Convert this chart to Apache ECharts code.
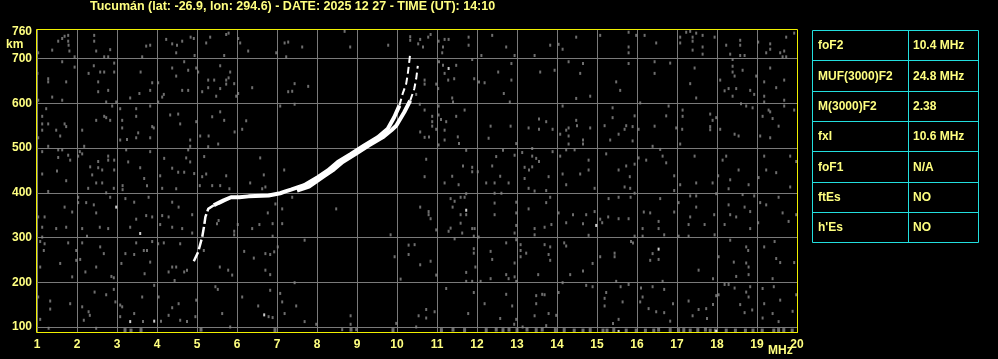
<!DOCTYPE html>
<html>
<head>
<meta charset="utf-8">
<script src="https://cdn.jsdelivr.net/npm/echarts@6/dist/echarts.min.js"></script>
<style>
html,body{margin:0;padding:0;background:#000;}
#c{width:998px;height:359px;}
</style>
</head>
<body>
<div id="c"></div>
<script>
var titleText = 'Tucumán (lat: -26.9, lon: 294.6) - DATE: 2025 12 27 - TIME (UT): 14:10';
var yTickValues = [100, 200, 300, 400, 500, 600, 700];
var yLabelValues = [100, 200, 300, 400, 500, 600, 700, 760];
var paramNames = ['foF2', 'MUF(3000)F2', 'M(3000)F2', 'fxI', 'foF1', 'ftEs', "h'Es"];
var paramValues = ['10.4 MHz', '24.8 MHz', '2.38', '10.6 MHz', 'N/A', 'NO', 'NO'];

// O-mode trace (MHz, km)
var oTraceLow = [[4.92,247],[5.03,268],[5.13,301],[5.18,327],[5.21,346],[5.28,364],[5.42,372]];
var oTrace = [[5.42,372],[5.53,377],[5.67,383],[5.85,390],[6.06,390],[6.29,392],[6.79,394],[7.08,399],[7.21,403],[7.35,407],[7.68,417],[8.02,435],[8.27,450],[8.52,469],[8.85,487],[9.18,506],[9.52,524],[9.77,543],[9.93,569],[10.06,595]];
var oTraceTop = [[10.06,595],[10.14,621],[10.23,644],[10.27,666],[10.33,711]];
// X-mode trace
var xTrace = [[7.5,405],[7.8,414],[8.14,435],[8.39,450],[8.64,469],[8.97,487],[9.3,506],[9.64,524],[9.86,540],[9.98,550],[10.18,580],[10.33,606]];
var xTraceTop = [[10.33,606],[10.43,632],[10.48,655],[10.52,684]];

// background echoes
var noiseA = [[1.03,713],[1.38,719],[1.53,739],[1.63,745],[1.69,750],[1.78,752],[1.78,739],[1.79,730],[1.81,717],[1.94,704],[2.43,752],[2.43,739],[2.48,717],[2.68,704],[2.78,704],[2.83,720],[3.63,704],[3.73,728],[3.83,730],[4.23,743],[4.38,733],[4.5,730],[4.63,739],[4.48,713],[4.84,748],[4.92,745],[4.94,707],[5.23,735],[5.33,748],[5.68,707],[5.73,754],[5.79,757],[6.03,745],[6.08,735],[6.28,717],[6.98,713],[7.19,735],[7.28,737],[7.23,704],
[1.01,667],[1.03,607],[1.28,655],[1.28,648],[1.38,614],[1.63,693],[1.63,607],[1.73,648],[1.94,681],[2.29,667],[2.42,684],[2.53,648],[2.53,626],[2.58,670],[2.68,670],[2.78,629],[2.73,603],[2.93,690],[2.93,670],[2.98,603],[3.33,612],[3.56,622],[3.59,670],[3.83,629],[3.88,646],[4.03,646],[4.13,614],[4.17,620],[4.03,603],[4.38,679],[4.48,661],[4.68,693],[4.78,674],[4.63,629],[4.78,629],[4.98,679],[5.03,670],[5.13,626],[5.28,652],[5.28,635],[5.43,652],[5.58,684],[5.58,633],[5.73,652],[5.73,643],[5.79,657],[5.83,670],[5.93,644],[5.48,616],[5.98,616],[6.03,622],[6.38,635],[7.28,626],
[1.23,588],[1.13,571],[1.13,554],[1.28,554],[1.13,540],[1.48,540],[1.69,554],[1.73,548],[1.58,527],[1.03,523],[1.28,504],[2.13,540],[2.48,562],[2.68,571],[2.73,568],[2.83,562],[2.88,594],[3.08,588],[3.13,562],[3.13,545],[3.08,518],[3.25,519],[3.48,588],[3.48,571],[3.53,534],[3.48,523],[3.83,594],[3.88,548],[3.92,545],[3.83,523],[4.33,574],[4.53,576],[4.58,554],[4.83,518],[4.98,559],[5.08,527],[5.29,527],[5.38,570],[5.58,581],[5.68,562],[5.94,536],[6.13,542],[6.23,561],[7.08,594],[5.53,509],[5.28,503],
[1.13,492],[1.53,496],[1.63,496],[1.53,479],[1.78,484],[1.83,473],[1.13,442],[1.5,449],[1.73,427],[2.03,482],[2.07,492],[2.13,487],[2.18,504],[2.33,458],[2.38,440],[2.53,470],[2.53,456],[2.63,451],[2.78,482],[2.78,473],[2.93,473],[2.93,451],[3.23,496],[3.28,469],[3.58,456],[3.68,432],[3.83,492],[4.08,438],[4.18,477],[4.38,455],[4.53,446],[4.68,446],[4.73,478],[4.83,469],[4.78,496],[4.83,504],[4.93,443],[5.13,436],[5.18,481],[5.23,442],[5.73,438],[6.58,478],[6.67,440],[7.18,451]];
var noiseB = [[2.28,410],[2.48,422],[2.63,422],[2.73,400],[2.92,410],[3.14,416],[3.14,407],[3.75,416],[4.13,410],[4.48,409],[5.07,416],[5.38,416],[5.58,416],[5.81,409],[6.33,422],[6.63,409],[6.71,413],[7.25,405],[1.28,403],
[1.03,346],[1.19,346],[1.13,323],[1.13,301],[1.48,320],[1.69,368],[1.73,323],[1.88,357],[2.03,390],[2.03,378],[2.23,378],[2.42,373],[2.48,355],[2.13,320],[2.25,303],[2.57,323],[2.78,320],[2.83,390],[3.21,387],[3.43,379],[3.33,323],[3.48,341],[3.73,349],[3.79,390],[3.88,346],[4.08,329],[4.13,349],[4.29,346],[4.38,379],[4.54,368],[4.38,323],[4.63,320],[4.88,351],[4.88,310],[5.5,331],[5.54,338],[5.93,314],[5.93,306],[6.02,329],[6.38,320],[6.56,329],[6.77,355],[6.89,331],[6.89,303],[6.96,375],[7.13,364],[7.13,331],
[1.08,291],[1.19,286],[1.17,271],[1.08,234],[1.58,242],[1.78,288],[1.88,212],[1.98,271],[1.98,249],[2.08,251],[2.13,288],[2.21,223],[2.48,234],[2.58,279],[2.67,264],[2.86,213],[2.92,210],[3.11,242],[3.21,264],[3.43,262],[3.48,288],[3.67,271],[3.75,271],[3.83,245],[3.69,219],[3.88,291],[4.03,286],[4.17,288],[4.29,223],[4.38,234],[4.48,234],[4.58,286],[4.68,223],[4.75,227],[4.44,204],[5.17,271],[5.57,234],[5.78,227],[5.88,216],[6.18,269],[6.42,254],[6.71,264],[6.83,262],[6.93,268],[6.71,227],[7.02,279],[6.83,217],
[1.03,167],[1.33,158],[1.33,140],[1.08,117],[1.29,97],[1.83,152],[2.13,145],[2.29,134],[2.17,115],[2.32,126],[2.44,178],[2.48,97],[2.73,172],[2.92,184],[2.96,156],[3.08,149],[3.13,145],[3.08,123],[3.43,130],[3.63,167],[3.65,112],[3.93,193],[4.04,167],[4.1,113],[4.29,126],[4.38,143],[4.54,152],[4.58,115],[4.75,112],[4.98,160],[4.96,123],[5.46,190],[5.52,184],[5.63,130],[5.83,100],[6.13,167],[6.53,147],[6.79,123],[6.89,121],[6.83,182],[7.08,175],[7.19,130],[7.13,156]];
var noiseC = [[7.63,726],[7.38,627],[7.44,644],[7.78,638],[7.44,598],[8.69,761],[8.83,726],[9.78,730],[10.33,741],[10.33,749],[10.53,733],[10.58,743],[10.65,726],[10.78,748],[10.84,754],[11.04,739],[11.15,726],[11.13,713],[11.19,743],[11.29,743],[11.79,748],[11.79,730],[12.38,752],[12.73,726],[12.94,707],[13.44,707],[12.11,707],[11.05,693],[11.15,685],[11.19,667],[11.48,685],[11.43,655],[11.28,652],[10.69,652],[10.69,643],[10.48,620],[10.98,643],[11.03,633],[11.88,698],[11.93,655],[12.05,648],[12.19,646],[12.53,670],[12.86,689],[12.86,652],[12.67,622],[12.82,603],[13.58,670],[11.38,612],[11.4,603],[10.57,598],[10.69,585],[10.88,571],[10.88,559],[10.88,549],[11.04,594],[11.04,574],[11.1,564],[11.23,559],[10.98,542],[11.19,540],[11.19,518],[10.8,525],[10.69,524],[10.58,536],[11.48,571],[11.52,525],[11.55,510],[11.69,585],[12.29,522],[12.34,549],[12.84,549],[13.29,545],[13.55,565],[13.55,542],[11.04,507],[10.73,475],[10.69,436],[11.38,437],[11.65,460],[11.73,495],[11.88,457],[11.88,447],[12.02,447],[12.38,460],[12.48,481],[12.58,437],[12.65,495],[12.94,484],[13.13,490],[13.19,457],[13.3,451],[13.38,482],[13.38,458],[13.48,477],[13.55,470],[13.19,432],[12.98,510],[13.38,499],[8.68,477]];
var noiseD = [[7.38,390],[8.48,364],[9.84,306],[7.69,294],[7.44,199],[7.48,147],[7.69,112],[7.98,106],[8.63,94],[8.84,125],[8.84,106],[8.98,94],[9.94,257],[10.29,283],[10.29,262],[10.44,284],[10.58,239],[10.84,247],[10.98,216],[10.09,207],[10.58,368],[10.79,358],[10.79,351],[10.84,342],[10.98,317],[11.19,422],[11.34,387],[11.44,381],[11.39,368],[11.59,390],[11.69,390],[11.73,398],[11.73,351],[11.59,351],[11.59,332],[11.34,321],[11.29,314],[11.63,310],[11.88,320],[11.94,320],[12.04,301],[11.92,303],[11.44,297],[11.54,418],[12.23,422],[12.44,422],[12.79,422],[13.29,410],[13.44,404],[12.44,399],[12.61,399],[12.44,377],[12.44,351],[12.98,379],[13.29,364],[12.98,355],[12.98,327],[13.44,320],[13.44,306],[12.94,310],[11.92,275],[11.92,265],[11.96,234],[11.73,222],[11.73,202],[11.88,202],[12.09,202],[12.34,269],[12.38,251],[12.73,288],[12.94,243],[12.73,217],[12.79,208],[12.34,208],[12.94,212],[12.98,202],[13.09,284],[13.09,271],[13.09,257],[13.23,265],[13.53,217],[12.98,295],[11.23,186],[11.92,177],[12.19,152],[12.73,173],[12.88,147],[13.48,170],[13.48,152],[13.63,173],[13.44,125],[10.73,139],[10.94,134],[10.54,125],[10.73,120],[11.78,130],[12.58,119],[9.98,108],[10.48,100],[12.98,117],[12.93,106],[13.14,100]];
var noiseE = [[13.83,730],[14.04,732],[14.14,721],[14.48,748],[15.08,752],[15.79,759],[15.79,726],[15.79,713],[15.98,752],[16.19,752],[16.48,735],[17.08,748],[17.08,735],[17.23,759],[17.33,761],[17.39,748],[17.39,739],[17.39,719],[17.48,757],[17.64,752],[17.64,726],[17.64,710],[17.94,748],[18.23,730],[18.33,710],[18.58,741],[18.58,730],[18.58,707],[18.69,707],[19.03,737],[19.33,733],[19.33,721],[19.23,713],[19.58,713],[19.68,717],[19.73,748],[19.64,704],[19.73,704],[19.93,757],
[14.29,693],[14.65,689],[14.58,667],[13.94,674],[14.83,616],[14.48,611],[15.48,648],[15.58,629],[15.79,689],[16.44,693],[16.44,667],[16.83,690],[17.44,679],[17.33,644],[17.48,612],[18.08,652],[18.19,628],[18.29,633],[18.39,698],[18.39,683],[18.39,670],[18.44,661],[18.64,674],[18.39,616],[18.48,633],[18.83,629],[18.93,620],[18.98,661],[19.18,648],[19.18,616],[19.18,603],[19.33,679],[19.48,635],[19.68,652],[19.68,607],[16.08,601],
[13.73,559],[13.89,542],[14.14,594],[14.08,531],[14.23,540],[14.29,545],[14.29,527],[14.48,562],[14.5,550],[14.83,545],[14.65,518],[14.65,509],[14.29,509],[15.39,590],[15.39,568],[15.19,550],[15.54,531],[15.33,518],[15.69,542],[15.73,550],[15.89,548],[15.89,516],[15.94,572],[16.04,542],[16.44,549],[16.39,504],[16.73,572],[16.79,594],[16.98,545],[17.14,585],[17.14,571],[17.13,542],[17.08,509],[17.83,576],[17.83,548],[17.83,541],[17.89,562],[17.98,568],[18.08,542],[18.44,531],[18.54,527],[18.6,599],[18.73,594],[18.89,590],[19.14,571],[19.29,585],[19.33,581],[19.39,566],[19.54,549],[19.08,527],[19.33,523],[19.68,594],[19.93,585],
[13.89,492],[14.23,496],[14.44,496],[14.08,482],[14.79,473],[14.79,451],[14.58,442],[14.14,442],[13.79,436],[15.23,487],[15.54,451],[15.73,460],[15.82,436],[15.94,464],[16.04,478],[16.23,473],[16.58,497],[16.64,482],[16.73,467],[16.93,438],[17.44,482],[18.03,438],[18.14,473],[18.23,482],[18.33,429],[18.54,451],[19.04,434],[19.18,482],[19.23,451],[19.48,445],[19.83,482],[19.98,470]];
var noiseF = [[13.73,405],[14.23,418],[14.94,410],[15.69,413],[15.83,410],[15.94,399],[16.93,405],[17.08,418],[17.48,422],[17.89,422],[18.29,409],[18.79,418],[19.83,413],
[13.83,390],[13.73,378],[14.04,355],[13.86,329],[13.69,323],[14.4,351],[14.23,333],[14.65,331],[14.73,351],[14.94,358],[14.79,305],[15.29,387],[15.28,346],[15.08,341],[15.13,333],[15.54,390],[15.54,342],[15.79,342],[15.84,390],[15.94,303],[16.17,357],[16.33,355],[16.14,320],[16.14,303],[16.54,336],[16.54,320],[16.68,306],[16.58,387],[16.93,357],[17.04,378],[17.33,393],[17.48,393],[17.48,368],[17.33,346],[17.29,329],[17.04,303],[17.29,303],[17.69,329],[17.93,351],[17.94,306],[17.98,398],[18.19,329],[18.29,373],[18.33,351],[18.48,346],[18.64,396],[18.69,368],[18.83,358],[18.93,393],[18.83,320],[19.03,333],[19.08,378],[19.23,373],[19.54,390],[19.64,355],[19.79,336],[19.98,351],
[13.69,284],[13.83,279],[13.83,249],[13.79,262],[14.18,288],[14.23,281],[14.33,217],[14.65,225],[14.89,242],[15.08,257],[15.44,265],[15.44,257],[15.85,291],[15.9,288],[15.48,202],[16.33,249],[16.39,264],[16.54,251],[17.54,227],[17.9,208],[18.04,257],[18.33,294],[18.42,245],[18.48,213],[18.73,279],[18.78,271],[18.73,243],[18.79,234],[18.79,217],[19.18,279],[19.44,291],[19.48,253],[19.58,244],[19.93,244],[19.39,208],
[13.69,172],[14.04,177],[14.14,199],[13.79,130],[13.98,126],[13.73,103],[14.73,193],[14.89,190],[15.23,177],[15.19,164],[15.19,147],[15.59,190],[15.64,156],[15.4,108],[15.54,117],[15.79,195],[16.1,187],[16.14,167],[16.08,156],[16.39,190],[16.64,202],[16.68,184],[16.29,141],[16.48,134],[16.68,132],[16.9,152],[16.83,113],[17.29,158],[17.39,125],[17.54,139],[17.73,141],[17.75,119],[17.9,150],[17.98,170],[18.04,172],[18.19,195],[18.29,195],[18.44,187],[18.58,150],[18.69,132],[18.73,178],[18.79,167],[18.88,138],[18.83,190],[19.14,186],[19.18,152],[19.14,120],[19.39,130],[19.42,190],[19.58,160],[19.54,112],[19.89,135],[19.98,172]];
var noiseBottom = [[3.2,93],[3.35,92],[3.6,93],[5.1,94],[6.95,93],[8.85,94],[9.9,93],[11.11,93],[11.4,94],[11.69,93],[12.23,93],[12.48,94],[12.65,93],[12.8,94],[13.0,93],[13.25,94],[13.48,93],[13.63,94],[13.96,93],[14.18,93],[14.43,92],[14.65,92],[14.83,93],[15.15,92],[15.25,92],[15.42,93],[15.73,92],[15.98,92],[16.21,92],[16.42,92],[16.54,94],[16.83,93],[17.04,93],[17.17,93],[17.33,92],[17.52,93],[17.71,94],[17.83,92],[17.96,92],[18.23,92],[18.46,92],[18.71,92],[18.9,92],[19.13,92],[19.42,92],[19.54,93],[19.67,93],[19.88,92]];
var whiteDots = [[2.98,368],[3.58,309],[3.33,112],[3.93,113],[6.68,127],[11.73,361],[14.98,327],[16.54,274],[11.29,678],[15.54,90],[17.98,90]];

var noiseAll = noiseA.concat(noiseB, noiseC, noiseD, noiseE, noiseF);

var TXT = '#ffff80';
var FONT = '"Liberation Sans", Arial, sans-serif';

var chart = echarts.init(document.getElementById('c'), null, {renderer: 'canvas'});

var tblX = 812, tblY = 30, tblW = 166, rowH = 30.3, colX = 908;
var graphics = [];
graphics.push({type:'text', left: 90, top: 0, style:{text: titleText, fill: TXT, font: 'bold 12.5px ' + FONT}});
graphics.push({type:'text', left: 6, top: 39, style:{text: 'km', fill: TXT, font: 'bold 12px ' + FONT}});
graphics.push({type:'text', left: 768, top: 345, style:{text: 'MHz', fill: TXT, font: 'bold 12px ' + FONT}});
graphics.push({type:'rect', z: 10, shape:{x: 36.5, y: 29.5, width: 761, height: 303}, style:{fill: 'none', stroke: '#f0f000', lineWidth: 1}});
graphics.push({type:'rect', shape:{x: tblX + 0.5, y: tblY + 0.5, width: tblW, height: Math.round(rowH * paramNames.length)}, style:{fill: 'none', stroke: '#22dede', lineWidth: 1}});
graphics.push({type:'line', shape:{x1: colX + 0.5, y1: tblY, x2: colX + 0.5, y2: tblY + rowH * paramNames.length}, style:{stroke: '#22dede', lineWidth: 1}});
for (var i = 0; i < paramNames.length; i++) {
  var yy = tblY + rowH * i;
  if (i > 0) {
    graphics.push({type:'line', shape:{x1: tblX, y1: Math.round(yy) + 0.5, x2: tblX + tblW, y2: Math.round(yy) + 0.5}, style:{stroke: '#22dede', lineWidth: 1}});
  }
  graphics.push({type:'text', x: 818, y: yy + rowH / 2 + 1, style:{text: paramNames[i], fill: TXT, font: 'bold 12px ' + FONT, verticalAlign: 'middle'}});
  graphics.push({type:'text', x: 913, y: yy + rowH / 2 + 1, style:{text: paramValues[i], fill: TXT, font: 'bold 12px ' + FONT, verticalAlign: 'middle'}});
}

var option = {
  backgroundColor: '#000000',
  animation: false,
  grid: {left: 37, top: 30, width: 760, height: 303, show: false},
  xAxis: {
    type: 'value', min: 1, max: 20, interval: 1,
    axisLine: {show: false}, axisTick: {show: false},
    axisLabel: {color: TXT, fontWeight: 'bold', fontSize: 12, fontFamily: FONT, margin: 6, showMinLabel: true, showMaxLabel: true},
    splitLine: {show: true, lineStyle: {color: '#7a7a7a', width: 1}}
  },
  yAxis: {
    type: 'value', min: 86.5, max: 764,
    axisLine: {show: false},
    axisTick: {show: false, customValues: yTickValues},
    axisLabel: {color: TXT, fontWeight: 'bold', fontSize: 12, fontFamily: FONT, margin: 5, customValues: yLabelValues},
    splitLine: {show: true, lineStyle: {color: '#7a7a7a', width: 1}}
  },
  graphic: graphics,
  series: [
    {type: 'scatter', data: noiseAll, symbol: 'rect', symbolSize: [2, 3], itemStyle: {color: '#8a8a8a'}, z: 2, silent: true},
    {type: 'scatter', data: noiseBottom, symbol: 'rect', symbolSize: [3, 4], itemStyle: {color: '#8a8a8a'}, z: 2, silent: true},
    {type: 'scatter', data: whiteDots, symbol: 'rect', symbolSize: [2, 3], itemStyle: {color: '#ffffff'}, z: 3, silent: true},
    {type: 'line', data: oTraceLow, showSymbol: false, lineStyle: {color: '#ffffff', width: 2.5, type: [10, 3]}, z: 4, silent: true},
    {type: 'line', data: oTrace, showSymbol: false, lineStyle: {color: '#ffffff', width: 4}, z: 4, silent: true},
    {type: 'line', data: xTrace, showSymbol: false, lineStyle: {color: '#ffffff', width: 4}, z: 4, silent: true},
    {type: 'line', data: oTraceTop, showSymbol: false, lineStyle: {color: '#ffffff', width: 2, type: [7, 4]}, z: 4, silent: true},
    {type: 'line', data: xTraceTop, showSymbol: false, lineStyle: {color: '#ffffff', width: 2, type: [7, 4]}, z: 4, silent: true}
  ]
};
chart.setOption(option);
</script>
</body>
</html>
